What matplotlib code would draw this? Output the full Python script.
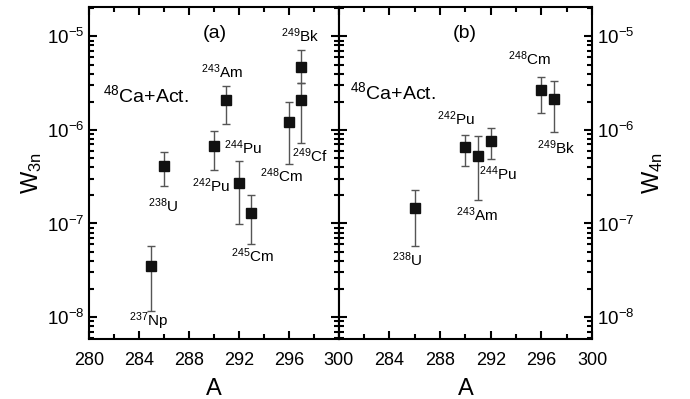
import numpy as np
import matplotlib
matplotlib.use('Agg')
import matplotlib.pyplot as plt
from matplotlib import ticker

plt.rcParams['font.family'] = 'Liberation Sans'
plt.rcParams['mathtext.fontset'] = 'custom'
plt.rcParams['mathtext.rm'] = 'Liberation Sans'
plt.rcParams['mathtext.it'] = 'Liberation Sans'
plt.rcParams['mathtext.default'] = 'rm'
plt.rcParams['axes.unicode_minus'] = False

### data: (a) 3n channel
A_3n = [285, 286, 290, 291, 292, 293, 296, 297, 297]
W_3n = [3.5e-8, 4.1e-7, 6.8e-7, 2.1e-6, 2.7e-7, 1.28e-7, 1.22e-6, 4.7e-6, 2.1e-6]
W_3n_hi = [5.8e-8, 5.8e-7, 9.8e-7, 2.95e-6, 4.6e-7, 2.0e-7, 2.0e-6, 7.2e-6, 3.2e-6]
W_3n_lo = [1.15e-8, 2.5e-7, 3.75e-7, 1.16e-6, 9.8e-8, 6.1e-8, 4.3e-7, 3.2e-6, 7.2e-7]

### data: (b) 4n channel
A_4n = [286, 290, 291, 292, 296, 297]
W_4n = [1.45e-7, 6.6e-7, 5.2e-7, 7.7e-7, 2.67e-6, 2.14e-6]
W_4n_hi = [2.3e-7, 8.9e-7, 8.7e-7, 1.05e-6, 3.66e-6, 3.3e-6]
W_4n_lo = [5.7e-8, 4.1e-7, 1.8e-7, 4.9e-7, 1.5e-6, 9.6e-7]

labels_3n = [('237', 'Np'), ('238', 'U'), ('242', 'Pu'), ('243', 'Am'), ('244', 'Pu'),
             ('245', 'Cm'), ('248', 'Cm'), ('249', 'Bk'), ('249', 'Cf')]
labels_4n = [('238', 'U'), ('242', 'Pu'), ('243', 'Am'), ('244', 'Pu'), ('248', 'Cm'), ('249', 'Bk')]

# label placement (layout only)
pos_3n = [(284.8, 9.1e-9), (285.9, 1.55e-7), (289.8, 2.54e-7), (290.64, 4.14e-6), (292.3, 6.45e-7),
          (293.1, 4.5e-8), (295.4, 3.24e-7), (296.9, 1.02e-5), (297.7, 5.3e-7)]
pos_4n = [(285.4, 4.14e-8), (289.3, 1.31e-6), (290.9, 1.25e-7), (292.6, 3.4e-7), (295.1, 5.8e-6),
          (297.15, 6.45e-7)]

fig = plt.figure(figsize=(6.9, 3.99), dpi=100)
ax1 = fig.add_axes([0.129, 0.150, 0.362, 0.832])
ax2 = fig.add_axes([0.491, 0.150, 0.367, 0.832])

def draw(ax, A, W, hi, lo):
    W = np.asarray(W)
    yerr = [W - np.asarray(lo), np.asarray(hi) - W]
    ax.errorbar(A, W, yerr=yerr, fmt='s', color='#111111', ms=7.5,
                ecolor='#555555', elinewidth=1.0, capsize=3, capthick=1.0)
    ax.set_yscale('log')
    ax.set_xlim(280, 300)
    ax.set_ylim(5.8e-9, 2.05e-5)
    ax.xaxis.set_major_locator(ticker.MultipleLocator(4))
    ax.xaxis.set_minor_locator(ticker.MultipleLocator(2))
    ax.yaxis.set_major_locator(ticker.LogLocator(base=10, numticks=10))
    ax.yaxis.set_minor_locator(ticker.LogLocator(base=10, subs=np.arange(2, 10), numticks=10))
    ax.yaxis.set_minor_formatter(ticker.NullFormatter())
    ax.tick_params(which='both', direction='in', top=True, right=True, width=1.5)
    ax.tick_params(which='major', length=6)
    ax.tick_params(which='minor', length=3.5)
    ax.tick_params(axis='x', labelsize=13, pad=9)
    ax.tick_params(axis='y', labelsize=13.5)
    for s in ax.spines.values():
        s.set_linewidth(1.5)
    ax.set_xlabel('A', fontsize=17, labelpad=7)

draw(ax1, A_3n, W_3n, W_3n_hi, W_3n_lo)
draw(ax2, A_4n, W_4n, W_4n_hi, W_4n_lo)

# right panel: no "280" under the shared border
ax2.xaxis.set_major_formatter(ticker.FuncFormatter(lambda v, p: '' if v < 281 else '%d' % v))

ax1.set_ylabel('W$_{3n}$', fontsize=17, labelpad=2)
ax2.yaxis.set_label_position('right')
ax2.tick_params(axis='y', labelleft=False, labelright=True)
ax2.set_ylabel('W$_{4n}$', fontsize=17, labelpad=4)

for (iso, el), (x, y) in zip(labels_3n, pos_3n):
    ax1.text(x, y, '$^{%s}$%s' % (iso, el), fontsize=11, ha='center', va='center')
for (iso, el), (x, y) in zip(labels_4n, pos_4n):
    ax2.text(x, y, '$^{%s}$%s' % (iso, el), fontsize=11, ha='center', va='center')

ax1.text(290.1, 1.08e-5, '(a)', fontsize=14, ha='center', va='center')
ax2.text(289.96, 1.08e-5, '(b)', fontsize=14, ha='center', va='center')
ax1.text(281.1, 2.36e-6, '$^{48}$Ca+Act.', fontsize=14, ha='left', va='center')
ax2.text(280.9, 2.54e-6, '$^{48}$Ca+Act.', fontsize=14, ha='left', va='center')

fig.savefig('out.png', dpi=100)
